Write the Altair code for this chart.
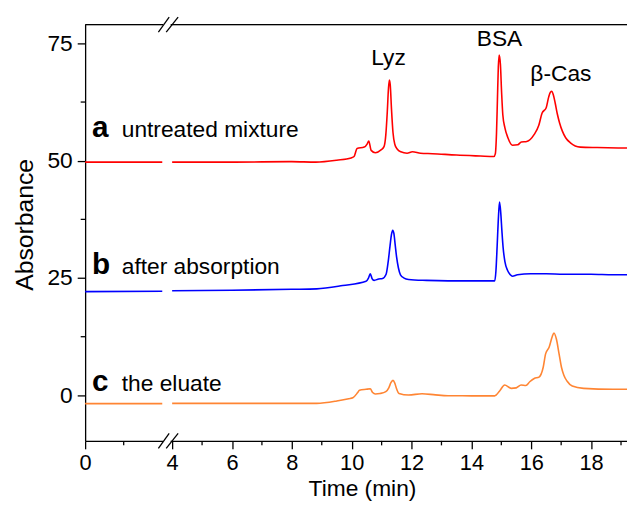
import altair as alt
import pandas as pd

# ---- data ----
t_a = [0, 2.0, 4.0, 6, 8, 8.8, 9.5, 9.98, 10.08, 10.18, 10.42, 10.52, 10.57, 10.65, 10.79, 10.98,
       11.08, 11.14, 11.19, 11.23, 11.26, 11.29, 11.33, 11.38, 11.44, 11.52, 11.64, 11.85, 12.03,
       12.3, 12.7, 13.5, 14.3, 14.75, 14.8, 14.84, 14.87, 14.9, 14.93, 14.97, 15.01, 15.05,
       15.12, 15.22, 15.37, 15.55, 15.67, 15.85, 16.1, 16.25, 16.36, 16.5, 16.58, 16.64,
       16.69, 16.74, 16.8, 16.87, 16.95, 17.04, 17.15, 17.31, 17.64, 18.2, 19.2]
v_a = [49.7, 49.7, 49.7, 49.7, 49.8, 49.7, 50.1, 50.6, 50.9, 52.6, 52.9, 53.6, 54.2, 52.2, 51.7, 52.3,
       53.0, 55.5, 60.5, 65.5, 67.2, 66.0, 61.0, 56.0, 53.5, 52.5, 51.9, 51.6, 51.9,
       51.6, 51.5, 51.2, 51.0, 50.9, 51.5, 56.0, 63.0, 70.0, 72.5, 70.5, 64.5, 59.8,
       57.0, 54.9, 53.3, 53.4, 54.0, 54.1, 55.6, 57.5, 60.1, 61.3, 63.5, 64.6,
       64.8, 64.0, 62.3, 60.0, 58.0, 56.3, 54.9, 53.8, 52.9, 52.8, 52.7]

t_b = [0, 2.0, 4.0, 6, 8, 8.83, 9.7, 10.48, 10.56, 10.62, 10.68, 10.75, 10.9, 11.03, 11.15,
       11.22, 11.28, 11.33, 11.37, 11.41, 11.45, 11.5, 11.56, 11.63, 11.75, 11.9, 12.5, 13.22,
       14.0, 14.78, 14.82, 14.86, 14.9, 14.94, 14.98, 15.02, 15.06, 15.12, 15.21, 15.3, 15.37,
       15.54, 15.98, 16.5, 17.08, 18.0, 18.73, 19.2]
v_b = [22.1, 22.2, 22.3, 22.4, 22.6, 22.7, 23.4, 24.3, 25.0, 25.9, 24.9, 24.5, 24.8, 24.9, 25.8,
       28.5, 31.8, 34.3, 35.2, 34.5, 32.3, 29.5, 27.2, 25.7, 25.0, 24.7, 24.5, 24.4,
       24.4, 24.4, 26.5, 31.7, 37.5, 41.2, 39.0, 35.0, 31.5, 28.5, 26.6, 25.7, 25.4,
       25.7, 25.9, 25.9, 25.8, 25.8, 25.7, 25.7]

t_c = [0, 2.0, 4.0, 6, 8, 8.83, 9.5, 9.9, 10.04, 10.2, 10.26, 10.48, 10.62, 10.7, 10.79,
       10.95, 11.14, 11.24, 11.31, 11.38, 11.44, 11.5, 11.58, 11.9, 12.35, 12.8, 13.22, 14.0,
       14.78, 14.95, 15.11, 15.33, 15.5, 15.66, 15.82, 15.95, 16.1, 16.26, 16.4, 16.48, 16.6,
       16.7, 16.76, 16.84, 16.93, 17.01, 17.09, 17.2, 17.37, 17.75, 18.73, 19.2]
v_c = [-1.75, -1.75, -1.7, -1.7, -1.7, -1.7, -1.2, -0.7, -0.5, 0.6, 1.1, 1.3, 1.4, 0.6, 0.3,
       0.4, 0.8, 1.6, 2.7, 3.2, 2.6, 1.4, 0.4, 0.07, 0.35, 0.1, -0.07, -0.1,
       -0.1, 1.0, 2.2, 1.5, 1.6, 2.2, 2.1, 2.9, 3.6, 3.9, 6.0, 8.85, 10.3,
       12.5, 13.3, 12.0, 8.85, 6.0, 4.3, 3.0, 2.0, 1.5, 1.3, 1.3]

series_names = ["a", "b", "c"]
series_colors = ["#ff0000", "#0000ff", "#ff8533"]

x_major = [0, 4, 6, 8, 10, 12, 14, 16, 18]
x_minor = [1, 5, 7, 9, 11, 13, 15, 17, 19]
y_major = [0, 25, 50, 75]
y_minor = [12.5, 37.5, 62.5]

letters = ["a", "b", "c"]
descriptions = ["untreated mixture", "after absorption", "the eluate"]
label_v = [55.07, 25.9, 0.84]

peak_names = ["Lyz", "BSA", "β-Cas"]
peak_t = [11.23, 14.94, 16.99]
peak_v = [70.3, 74.4, 66.95]

Y_MIN, Y_MAX = -9.7, 79.0
X_MAX = 19.2
FONT = "Liberation Sans"

# ---- tables ----
rows = []
for name, ts, vs in zip(series_names, [t_a, t_b, t_c], [v_a, v_b, v_c]):
    for t, v in zip(ts, vs):
        rows.append({"t": t, "v": v, "s": name, "seg": 0 if t <= 2.0 else 1})
df = pd.DataFrame(rows)

xscale = alt.Scale(domain=[0, 2, 4, X_MAX], range=[0, 78, 88, 548], nice=False, zero=False)
yscale = alt.Scale(domain=[Y_MIN, Y_MAX], nice=False, zero=False)

xaxis = alt.Axis(values=x_major, title="Time (min)", grid=False, tickSize=8, tickWidth=1.3,
                 domainWidth=1.3, domainColor="black", tickColor="black", labelColor="black",
                 titleColor="black", labelFont=FONT, titleFont=FONT, labelFontSize=22,
                 titleFontSize=23, titleFontWeight="normal", labelBaseline="alphabetic",
                 labelPadding=21, labelFlush=False, titleBaseline="alphabetic",
                 titleY=55, titleX=280)
yaxis = alt.Axis(values=y_major, title="Absorbance", grid=False, tickSize=8, tickWidth=1.3,
                 domainWidth=1.3, domainColor="black", tickColor="black", labelColor="black",
                 titleColor="black", labelFont=FONT, titleFont=FONT, labelFontSize=23,
                 titleFontSize=25, titleFontWeight="normal", labelPadding=5, labelFlush=False,
                 titleBaseline="alphabetic", titleX=-53, titleY=202)

lines = alt.Chart(df).mark_line(strokeWidth=1.6, interpolate="monotone").encode(
    x=alt.X("t:Q", scale=xscale, axis=xaxis),
    y=alt.Y("v:Q", scale=yscale, axis=yaxis),
    color=alt.Color("s:N", scale=alt.Scale(domain=series_names, range=series_colors), legend=None),
    detail="seg:N",
    order="t:Q",
)

# frame top line
top = alt.Chart(pd.DataFrame({"k": [0]})).mark_rule(color="black", strokeWidth=1.3).encode(
    x=alt.datum(0, scale=xscale), x2=alt.datum(X_MAX), y=alt.datum(Y_MAX, scale=yscale))

# minor ticks
xm = alt.Chart(pd.DataFrame({"t": x_minor})).mark_rule(color="black", strokeWidth=1.3).encode(
    x=alt.X("t:Q", scale=xscale), y=alt.datum(Y_MIN, scale=yscale), y2=alt.datum(Y_MIN - 0.95))
ym = alt.Chart(pd.DataFrame({"v": y_minor})).mark_rule(color="black", strokeWidth=1.3).encode(
    y=alt.Y("v:Q", scale=yscale), x=alt.datum(0, scale=xscale), x2=alt.datum(-0.115))

# axis break: white gaps + slashes
gap = pd.DataFrame({"x1": [2.15, 2.15], "x2": [3.7, 3.7], "y": [Y_MIN, Y_MAX]})
gaps = alt.Chart(gap).mark_rule(color="white", strokeWidth=3).encode(
    x=alt.X("x1:Q", scale=xscale), x2="x2:Q", y=alt.Y("y:Q", scale=yscale))
sl = pd.DataFrame({
    "x1": [1.9, 2.8, 1.9, 2.8],
    "x2": [3.4, 4.2, 3.4, 4.2],
    "y1": [Y_MIN - 1.6, Y_MIN - 1.6, Y_MAX - 1.6, Y_MAX - 1.6],
    "y2": [Y_MIN + 1.6, Y_MIN + 1.6, Y_MAX + 1.6, Y_MAX + 1.6],
})
slashes = alt.Chart(sl).mark_rule(color="black", strokeWidth=1.3).encode(
    x=alt.X("x1:Q", scale=xscale), x2="x2:Q", y=alt.Y("y1:Q", scale=yscale), y2="y2:Q")

# text labels
lab = pd.DataFrame({"t": [0.18] * 3, "v": label_v, "txt": letters})
lab_txt = alt.Chart(lab).mark_text(font=FONT, fontSize=30, fontWeight="bold", align="left",
                                   baseline="alphabetic", color="black").encode(
    x=alt.X("t:Q", scale=xscale), y=alt.Y("v:Q", scale=yscale), text="txt:N")
desc = pd.DataFrame({"t": [0.95] * 3, "v": label_v, "txt": descriptions})
desc_txt = alt.Chart(desc).mark_text(font=FONT, fontSize=23, align="left",
                                     baseline="alphabetic", color="black").encode(
    x=alt.X("t:Q", scale=xscale), y=alt.Y("v:Q", scale=yscale), text="txt:N")
pk = pd.DataFrame({"t": peak_t, "v": peak_v, "txt": peak_names})
pk_txt = alt.Chart(pk).mark_text(font=FONT, fontSize=23, align="center",
                                 baseline="alphabetic", color="black").encode(
    x=alt.X("t:Q", scale=xscale), y=alt.Y("v:Q", scale=yscale), text="txt:N")

chart = alt.layer(lines, top, xm, ym, gaps, slashes, lab_txt, desc_txt, pk_txt).properties(
    width=548, height=421,
    padding={"left": 78, "top": 14, "right": 0, "bottom": 60},
    autosize=alt.AutoSizeParams(type="none"),
).configure_view(stroke="transparent").configure(background="white")

chart.save("out.html", embed_options={"renderer": "svg", "actions": False})
